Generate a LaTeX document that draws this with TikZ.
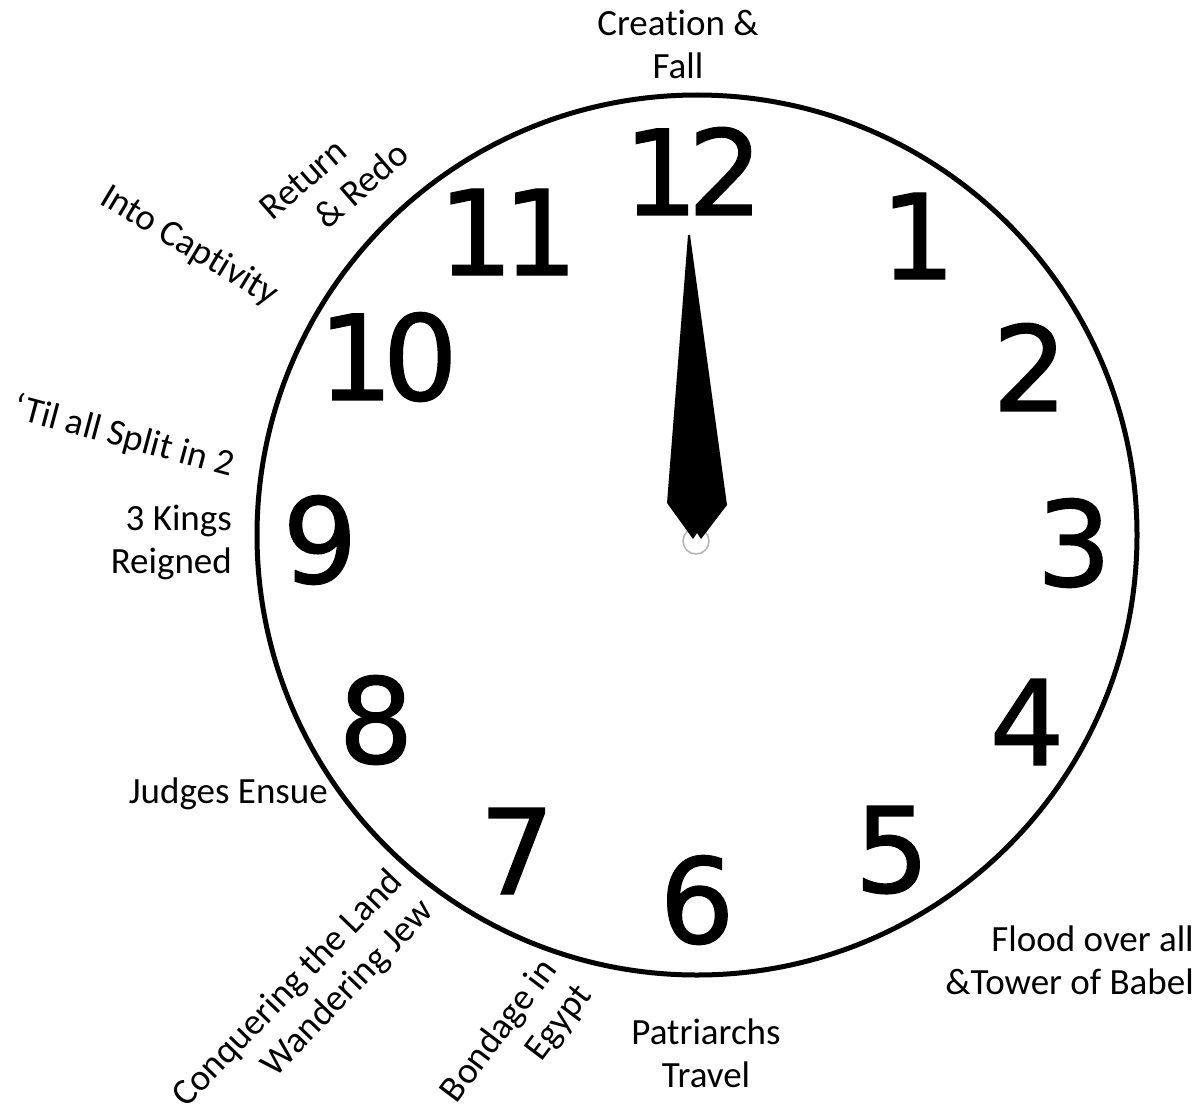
\documentclass[tikz,border=0pt]{standalone}
\usepackage{fontspec}
\setmainfont[Ligatures=NoCommon]{Carlito}
\newfontfamily\numfont[LetterSpace=-9,FakeBold=1.2]{DejaVu Sans}
\begin{document}
\begin{tikzpicture}[x=1pt,y=-1pt,
  lbl/.style={font=\fontsize{37}{43}\selectfont, inner sep=0pt},
  num/.style={font=\numfont\fontsize{118}{118}\selectfont, inner sep=0pt}]
\useasboundingbox (0,0) rectangle (1198,1113);
% face
\node[draw, circle, line width=5pt, minimum size=880pt, inner sep=0pt] (face) at (697,535) {};
% numbers
\node[num] (n12) at (693,171) {12};
\node[num] (n1)  at (918,236) {1};
\node[num] (n2)  at (1030,367) {2};
\node[num] (n3)  at (1074,543) {3};
\node[num] (n4)  at (1027,722) {4};
\node[num] (n5)  at (892,850) {5};
\node[num] (n6)  at (697,900) {6};
\node[num] (n7)  at (517,851) {7};
\node[num] (n8)  at (376,720) {8};
\node[num] (n9)  at (320,540) {9};
\node[num] (n10) at (388,357) {10};
\node[num] (n11) at (508,232) {11};
% hub and hand
\node[draw=gray!60, circle, line width=1.5pt, minimum size=26pt, inner sep=0pt] (hub) at (696,541) {};
\fill (688,235) -- (690,235) -- (727,505) -- (701,539) -- (697,533) -- (693,539) -- (667,503) -- cycle;
% labels
\node[lbl, align=center] (creation) at (678,44) {Creation \&\\Fall};
\node[lbl, align=left, rotate=41] (return) at (334,181) {Return\\\hspace*{36pt}\& Redo};
\node[lbl, rotate=-31, anchor=base west] (captivity) at (98,203) {Into Captivity};
\node[lbl, rotate=-15, anchor=base] (split) at (121,447) {‘Til all Split in 2};
\node[lbl, align=right, anchor=east] (kings) at (232,542) {3 Kings\\Reigned};
\node[lbl, anchor=base east] (judges) at (328,803) {Judges Ensue};
\node[lbl, align=right, rotate=46] (conquer) at (304,1004) {Conquering the Land\\Wandering Jew};
\node[lbl, align=right, rotate=53] (bondage) at (517,1044) {Bondage in\\Egypt};
\node[lbl, align=center] (patriarchs) at (706,1053) {Patriarchs\\Travel};
\node[lbl, align=right, anchor=east] (flood) at (1194,960) {Flood over all\\\&Tower of Babel};
\end{tikzpicture}
\end{document}
